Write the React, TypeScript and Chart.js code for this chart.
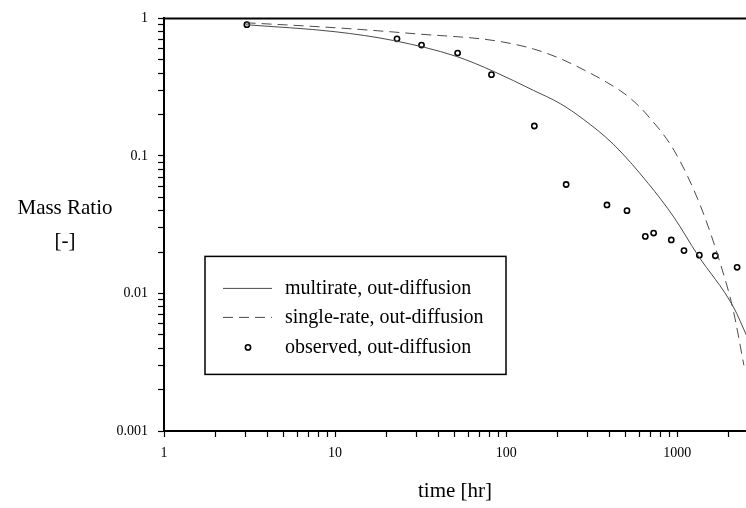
import React, { useEffect, useRef } from "react";
import { Chart, registerables } from "chart.js";

Chart.register(...registerables);

// ---- data ----
const obsTimes = [3.05, 23, 32, 52, 82, 146, 224, 388, 508, 650, 727, 922, 1094, 1345, 1668, 2236];
const obsValues = [0.9, 0.71, 0.64, 0.56, 0.39, 0.165, 0.062, 0.044, 0.04, 0.026, 0.0275, 0.0245, 0.0205, 0.019, 0.0188, 0.0155];

const mrTimes = [3, 10, 22, 51, 85, 144, 207, 282, 422, 677, 960, 1310, 2125, 2566];
const mrValues = [0.9, 0.8, 0.69, 0.53, 0.41, 0.3, 0.24, 0.185, 0.122, 0.063, 0.0355, 0.0192, 0.008, 0.0048];

const srTimes = [3, 10.8, 30.6, 85, 144, 207, 298, 369, 464, 531, 668, 960, 1365, 1784, 2125, 2450];
const srValues = [0.93, 0.85, 0.77, 0.69, 0.6, 0.51, 0.41, 0.355, 0.298, 0.263, 0.198, 0.109, 0.0434, 0.0165, 0.0075, 0.003];

const seriesLabels = ["multirate, out-diffusion", "single-rate, out-diffusion", "observed, out-diffusion"];

const xTickValues = [1, 10, 100, 1000];
const xTickLabels = ["1", "10", "100", "1000"];
const yTickValues = [0.001, 0.01, 0.1, 1];
const yTickLabels = ["0.001", "0.01", "0.1", "1"];

const xMin = 1;
const xMax = 2520;
const yMin = 0.001;
const yMax = 1;

const xTitle = "time [hr]";
const yTitleLines = ["Mass Ratio", "[-]"];

const FONT = "'Liberation Serif', 'Times New Roman', serif";

function buildLogTicks(min: number, max: number) {
  const out: { value: number }[] = [];
  const d0 = Math.floor(Math.log10(min) + 1e-9);
  const d1 = Math.ceil(Math.log10(max) - 1e-9);
  for (let d = d0; d <= d1; d++) {
    for (let k = 1; k <= 9; k++) {
      const v = parseFloat((k * Math.pow(10, d)).toPrecision(6));
      if (v >= min * (1 - 1e-9) && v <= max * (1 + 1e-9)) out.push({ value: v });
    }
  }
  return out;
}

function labelFor(v: number, vals: number[], labels: string[]) {
  for (let i = 0; i < vals.length; i++) {
    if (Math.abs(v / vals[i] - 1) < 1e-6) return labels[i];
  }
  return "";
}

const framePlugin = {
  id: "frameAndLegend",
  afterDraw(chart: any) {
    const { ctx, chartArea } = chart;
    ctx.save();
    // top frame line
    ctx.strokeStyle = "#000";
    ctx.lineWidth = 2;
    ctx.beginPath();
    ctx.moveTo(chartArea.left, chartArea.top);
    ctx.lineTo(chartArea.right, chartArea.top);
    ctx.stroke();

    // y axis title (horizontal, two lines)
    ctx.fillStyle = "#000";
    ctx.font = `21px ${FONT}`;
    ctx.textAlign = "center";
    ctx.textBaseline = "middle";
    ctx.fillText(yTitleLines[0], 65, 208);
    ctx.fillText(yTitleLines[1], 65, 241);

    // legend box
    const bx = chartArea.left + 41;
    const by = chartArea.top + 238;
    const bw = 301;
    const bh = 118;
    ctx.fillStyle = "#fff";
    ctx.fillRect(bx, by, bw, bh);
    ctx.strokeStyle = "#000";
    ctx.lineWidth = 1.5;
    ctx.strokeRect(bx, by, bw, bh);

    const rows = [32, 61, 91];
    chart.data.datasets.forEach((ds: any, i: number) => {
      const y = by + rows[i];
      ctx.save();
      if (ds.showLine === false) {
        ctx.beginPath();
        ctx.arc(bx + 43, y, ds.pointRadius, 0, Math.PI * 2);
        ctx.strokeStyle = ds.borderColor;
        ctx.lineWidth = ds.pointBorderWidth;
        ctx.stroke();
      } else {
        ctx.beginPath();
        ctx.setLineDash(ds.borderDash || []);
        ctx.strokeStyle = ds.borderColor;
        ctx.lineWidth = ds.borderWidth;
        ctx.moveTo(bx + 18, y);
        ctx.lineTo(bx + 67, y);
        ctx.stroke();
      }
      ctx.restore();
      ctx.fillStyle = "#000";
      ctx.font = `20px ${FONT}`;
      ctx.textAlign = "left";
      ctx.textBaseline = "middle";
      ctx.fillText(ds.label, bx + 80, y);
    });
    ctx.restore();
  },
};

export default function App() {
  const ref = useRef<HTMLCanvasElement | null>(null);

  useEffect(() => {
    if (!ref.current) return;
    const chart = new Chart(ref.current, {
      type: "line",
      data: {
        datasets: [
          {
            label: seriesLabels[0],
            data: mrTimes.map((t, i) => ({ x: t, y: mrValues[i] })),
            borderColor: "#4a4a4a",
            borderWidth: 1,
            pointRadius: 0,
            cubicInterpolationMode: "monotone",
            fill: false,
          },
          {
            label: seriesLabels[1],
            data: srTimes.map((t, i) => ({ x: t, y: srValues[i] })),
            borderColor: "#4a4a4a",
            borderWidth: 1,
            borderDash: [10, 6],
            pointRadius: 0,
            cubicInterpolationMode: "monotone",
            fill: false,
          },
          {
            label: seriesLabels[2],
            data: obsTimes.map((t, i) => ({ x: t, y: obsValues[i] })),
            showLine: false,
            borderColor: "#000",
            backgroundColor: "rgba(0,0,0,0)",
            pointBackgroundColor: "rgba(0,0,0,0)",
            pointBorderColor: "#000",
            pointBorderWidth: 1.6,
            pointRadius: 2.6,
            pointStyle: "circle",
          },
        ] as any,
      },
      options: {
        animation: false,
        responsive: false,
        devicePixelRatio: 1,
        layout: { autoPadding: false, padding: { top: 17, right: 0, left: 0, bottom: 0 } },
        plugins: {
          legend: { display: false },
          tooltip: { enabled: false },
        },
        scales: {
          x: {
            type: "logarithmic",
            min: xMin,
            max: xMax,
            position: "bottom",
            afterBuildTicks: (s: any) => {
              s.ticks = buildLogTicks(s.min, s.max);
            },
            afterFit: (s: any) => {
              s.height = 77;
              s.paddingRight = 0;
              s.paddingLeft = 0;
            },
            ticks: {
              autoSkip: false,
              maxRotation: 0,
              padding: 8,
              color: "#000",
              font: { family: FONT, size: 14 },
              callback: (v: any) => labelFor(Number(v), xTickValues, xTickLabels),
            },
            grid: {
              drawOnChartArea: false,
              drawTicks: true,
              tickLength: 6,
              tickColor: "#000",
              tickWidth: 1.2,
            },
            border: { display: true, color: "#000", width: 2 },
            title: {
              display: true,
              text: xTitle,
              color: "#000",
              font: { family: FONT, size: 21 },
              padding: { top: 4, bottom: 4 },
            },
          },
          y: {
            type: "logarithmic",
            min: yMin,
            max: yMax,
            position: "left",
            afterBuildTicks: (s: any) => {
              s.ticks = buildLogTicks(s.min, s.max);
            },
            afterFit: (s: any) => {
              s.width = 164;
            },
            ticks: {
              autoSkip: false,
              padding: 10,
              color: "#000",
              font: { family: FONT, size: 14 },
              callback: (v: any) => labelFor(Number(v), yTickValues, yTickLabels),
            },
            grid: {
              drawOnChartArea: false,
              drawTicks: true,
              tickLength: 6,
              tickColor: "#000",
              tickWidth: 1.2,
            },
            border: { display: true, color: "#000", width: 2 },
          },
        },
      } as any,
      plugins: [framePlugin],
    });
    return () => chart.destroy();
  }, []);

  return (
    <div style={{ position: "absolute", left: 0, top: 0, width: 746, height: 508, background: "#fff" }}>
      <canvas ref={ref} width={746} height={508} style={{ display: "block", width: 746, height: 508 }} />
    </div>
  );
}
